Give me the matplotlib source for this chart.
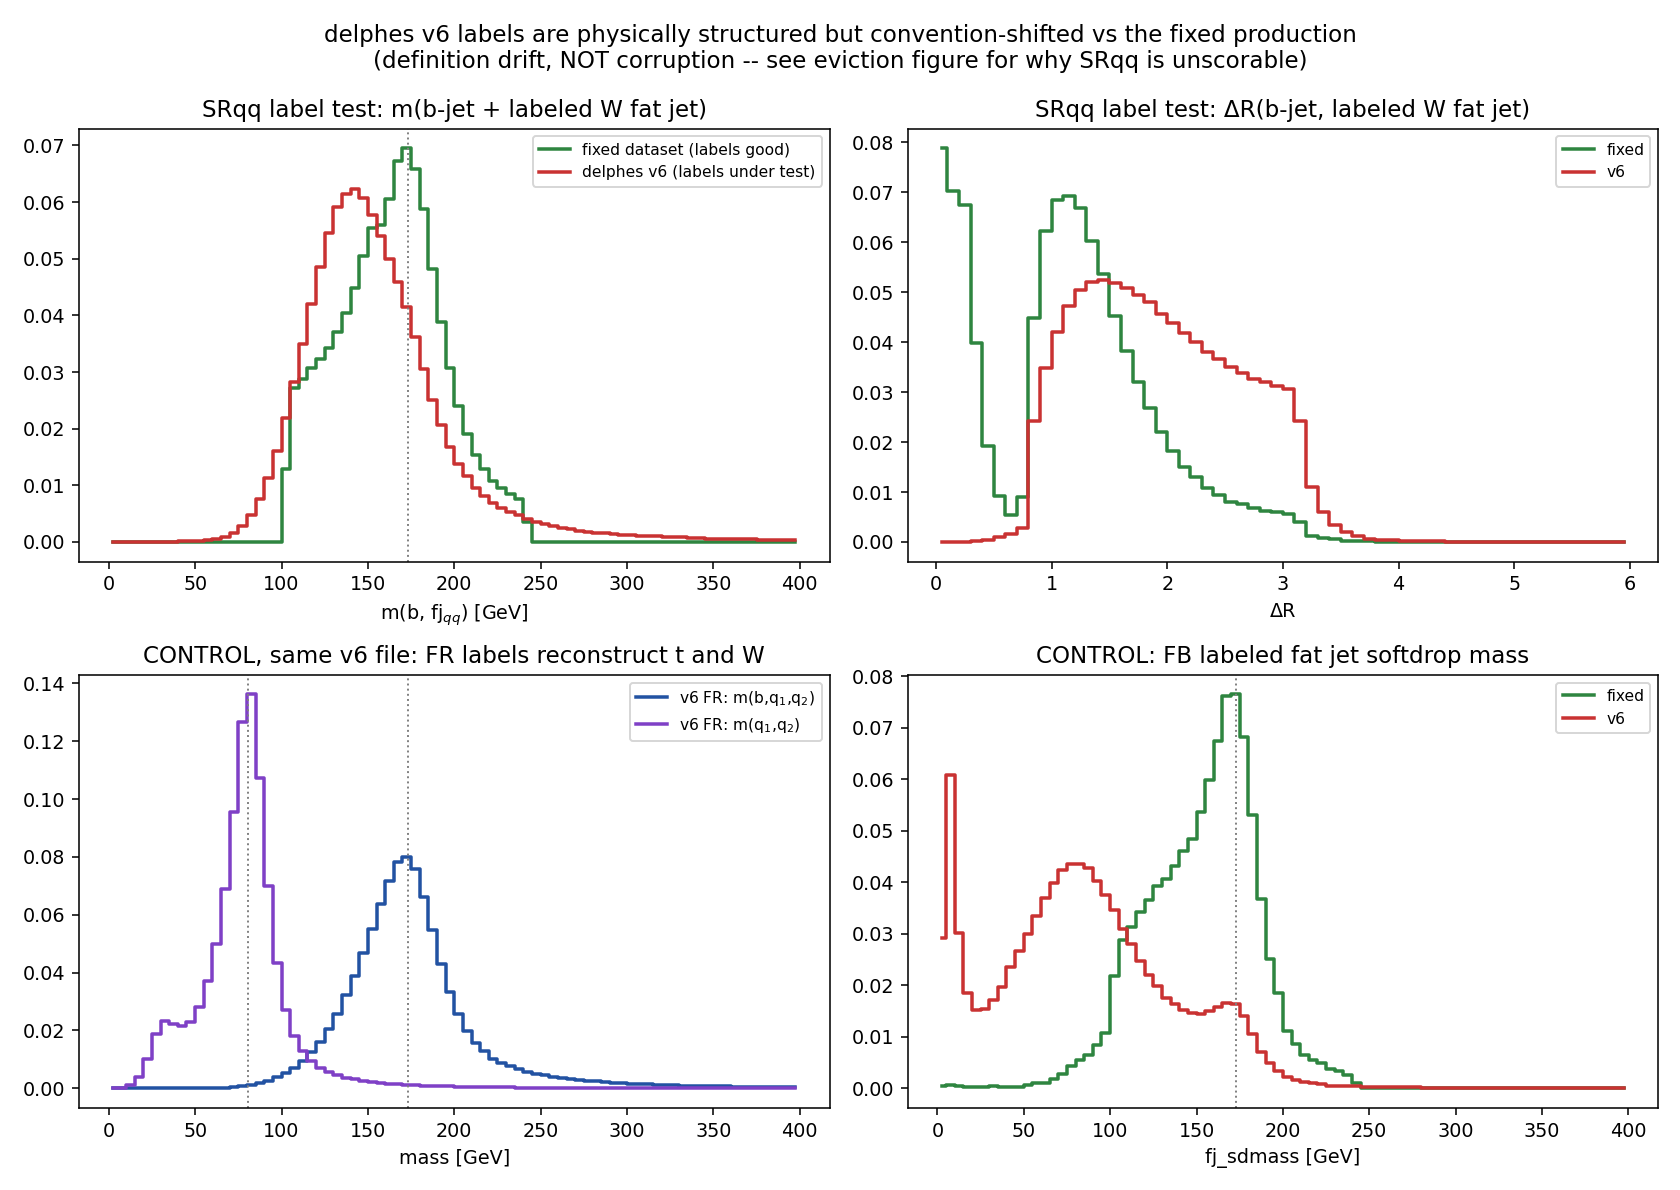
import numpy as np
import matplotlib
matplotlib.use("Agg")
import matplotlib.pyplot as plt

plt.rcParams["font.size"] = 9.85

# bins: mass 0-400 GeV in 5 GeV steps, dR 0-6 in 0.1 steps
mass_edges = np.arange(0, 405, 5)
dr_edges = np.round(np.arange(0, 6.05, 0.1), 2)

T_MASS = 173.0
W_MASS = 80.4

# --- SRqq m(b, fj_qq) ---
srqq_mass_fixed = [
    0, 0, 0, 0, 0, 0, 0, 0, 0, 0,
    0, 0, 0, 0, 0, 0, 0, 0, 0, 0,
    0.0129, 0.0271, 0.0288, 0.0307, 0.0323, 0.0343, 0.0370, 0.0404, 0.0449, 0.0504,
    0.0555, 0.0559, 0.0606, 0.0673, 0.0695, 0.0659, 0.0587, 0.0482, 0.0388, 0.0307,
    0.0240, 0.0191, 0.0154, 0.0129, 0.0107, 0.0095, 0.0085, 0.0076, 0.0036, 0,
    0, 0, 0, 0, 0, 0, 0, 0, 0, 0,
    0, 0, 0, 0, 0, 0, 0, 0, 0, 0,
    0, 0, 0, 0, 0, 0, 0, 0, 0, 0,
]
srqq_mass_v6 = [
    0, 0, 0, 0, 0, 0, 0, 0, 0.0001, 0.0001,
    0.0002, 0.0003, 0.0005, 0.0009, 0.0016, 0.0029, 0.0047, 0.0075, 0.0113, 0.0160,
    0.0218, 0.0282, 0.0349, 0.0420, 0.0486, 0.0545, 0.0591, 0.0614, 0.0623, 0.0607,
    0.0578, 0.0540, 0.0500, 0.0459, 0.0414, 0.0362, 0.0305, 0.0251, 0.0206, 0.0168,
    0.0137, 0.0116, 0.0096, 0.0081, 0.0069, 0.0060, 0.0053, 0.0047, 0.0041, 0.0036,
    0.0032, 0.0029, 0.0025, 0.0023, 0.0020, 0.0018, 0.0016, 0.0015, 0.0014, 0.0013,
    0.0012, 0.0011, 0.0010, 0.0010, 0.0009, 0.0008, 0.0008, 0.0007, 0.0007, 0.0006,
    0.0006, 0.0006, 0.0005, 0.0005, 0.0005, 0.0004, 0.0004, 0.0004, 0.0003, 0.0003,
]

# --- SRqq dR(b, fj) ---
srqq_dr_fixed = [
    0.0788, 0.0702, 0.0675, 0.0398, 0.0193, 0.0092, 0.0054, 0.0090, 0.0448, 0.0623,
    0.0684, 0.0692, 0.0669, 0.0603, 0.0536, 0.0453, 0.0383, 0.0320, 0.0268, 0.0221,
    0.0182, 0.0150, 0.0130, 0.0109, 0.0094, 0.0080, 0.0076, 0.0068, 0.0062, 0.0060,
    0.0056, 0.0040, 0.0012, 0.0008, 0.0005, 0.0002, 0.0001, 0.0001, 0, 0,
    0, 0, 0, 0, 0, 0, 0, 0, 0, 0,
    0, 0, 0, 0, 0, 0, 0, 0, 0, 0,
]
srqq_dr_v6 = [
    0, 0, 0, 0.0002, 0.0004, 0.0009, 0.0015, 0.0028, 0.0242, 0.0348,
    0.0421, 0.0473, 0.0505, 0.0520, 0.0524, 0.0518, 0.0509, 0.0495, 0.0480, 0.0457,
    0.0439, 0.0419, 0.0401, 0.0381, 0.0366, 0.0351, 0.0339, 0.0327, 0.0320, 0.0313,
    0.0306, 0.0242, 0.0110, 0.0061, 0.0034, 0.0020, 0.0011, 0.0006, 0.0004, 0.0003,
    0.0002, 0.0002, 0.0002, 0.0001, 0, 0, 0, 0, 0, 0,
    0, 0, 0, 0, 0, 0, 0, 0, 0, 0,
]

# --- control: FR labels in v6 ---
fr_m_bqq = [
    0, 0, 0, 0, 0, 0, 0, 0, 0, 0,
    0, 0, 0.0001, 0.0002, 0.0004, 0.0008, 0.0012, 0.0017, 0.0025, 0.0038,
    0.0053, 0.0071, 0.0095, 0.0124, 0.0159, 0.0205, 0.0258, 0.0321, 0.0389, 0.0468,
    0.0550, 0.0636, 0.0716, 0.0783, 0.0800, 0.0757, 0.0662, 0.0548, 0.0431, 0.0333,
    0.0255, 0.0198, 0.0157, 0.0128, 0.0102, 0.0088, 0.0076, 0.0066, 0.0057, 0.0050,
    0.0045, 0.0040, 0.0036, 0.0032, 0.0029, 0.0026, 0.0024, 0.0022, 0.0019, 0.0017,
    0.0015, 0.0014, 0.0013, 0.0012, 0.0011, 0.0010, 0.0009, 0.0008, 0.0008, 0.0007,
    0.0006, 0.0006, 0.0005, 0.0005, 0.0004, 0.0004, 0.0004, 0.0003, 0.0003, 0.0003,
]
fr_m_qq = [
    0, 0, 0.0012, 0.0038, 0.0100, 0.0188, 0.0232, 0.0222, 0.0214, 0.0228,
    0.0280, 0.0372, 0.0499, 0.0688, 0.0955, 0.1265, 0.1362, 0.1073, 0.0700, 0.0432,
    0.0272, 0.0179, 0.0130, 0.0095, 0.0070, 0.0055, 0.0044, 0.0037, 0.0031, 0.0025,
    0.0021, 0.0017, 0.0015, 0.0013, 0.0011, 0.0010, 0.0009, 0.0008, 0.0007, 0.0006,
    0.0005, 0.0005, 0.0004, 0.0004, 0.0003, 0.0003, 0.0003, 0.0002, 0.0002, 0.0002,
    0.0002, 0.0002, 0.0002, 0.0002, 0.0002, 0.0002, 0.0002, 0.0002, 0.0002, 0.0002,
    0.0002, 0.0002, 0.0001, 0.0001, 0.0001, 0.0001, 0.0001, 0.0001, 0.0001, 0.0001,
    0.0001, 0.0001, 0.0001, 0.0001, 0.0001, 0.0001, 0.0001, 0.0001, 0.0001, 0.0001,
]

# --- control: FB fat jet softdrop mass ---
fb_sdmass_fixed = [
    0.0004, 0.0006, 0.0005, 0.0002, 0.0002, 0.0002, 0.0004, 0.0002, 0.0003, 0.0003,
    0.0007, 0.0010, 0.0011, 0.0018, 0.0027, 0.0043, 0.0055, 0.0064, 0.0083, 0.0108,
    0.0218, 0.0287, 0.0314, 0.0342, 0.0366, 0.0393, 0.0407, 0.0431, 0.0460, 0.0484,
    0.0537, 0.0598, 0.0674, 0.0762, 0.0765, 0.0682, 0.0531, 0.0368, 0.0251, 0.0184,
    0.0112, 0.0086, 0.0064, 0.0054, 0.0049, 0.0038, 0.0034, 0.0026, 0.0010, 0.0001,
    0.0001, 0.0001, 0.0001, 0.0001, 0.0001, 0, 0, 0, 0, 0,
    0, 0, 0, 0, 0, 0, 0, 0, 0, 0,
    0, 0, 0, 0, 0, 0, 0, 0, 0, 0,
]
fb_sdmass_v6 = [
    0.0291, 0.0608, 0.0301, 0.0185, 0.0151, 0.0153, 0.0172, 0.0197, 0.0235, 0.0267,
    0.0300, 0.0334, 0.0369, 0.0398, 0.0424, 0.0436, 0.0436, 0.0427, 0.0402, 0.0376,
    0.0346, 0.0310, 0.0281, 0.0247, 0.0220, 0.0199, 0.0176, 0.0163, 0.0151, 0.0147,
    0.0144, 0.0150, 0.0158, 0.0166, 0.0163, 0.0140, 0.0106, 0.0070, 0.0049, 0.0033,
    0.0021, 0.0016, 0.0012, 0.0010, 0.0008, 0.0005, 0.0005, 0.0004, 0.0004, 0.0003,
    0.0003, 0.0003, 0.0002, 0.0002, 0.0002, 0.0002, 0.0001, 0.0001, 0.0001, 0.0001,
    0.0001, 0.0001, 0.0001, 0.0001, 0.0001, 0.0001, 0.0001, 0.0001, 0.0001, 0.0001,
    0, 0, 0, 0, 0, 0, 0, 0, 0, 0,
]

C_FIXED = "#2e8540"
C_V6 = "#c93232"
C_BQQ = "#2252a2"
C_QQ = "#7f40c6"
LW = 1.8


def centers(edges):
    edges = np.asarray(edges, dtype=float)
    return 0.5 * (edges[:-1] + edges[1:])


def hstep(ax, edges, vals, color, label):
    ax.step(centers(edges), vals, where="mid", color=color, lw=LW, label=label)


def vline(ax, x):
    ax.axvline(x, color="gray", ls=":", lw=1.0)


fig, axes = plt.subplots(2, 2, figsize=(12, 8.5), dpi=140)
fig.subplots_adjust(left=0.047, right=0.987, top=0.892, bottom=0.069,
                    wspace=0.104, hspace=0.261)

ax = axes[0, 0]
hstep(ax, mass_edges, srqq_mass_fixed, C_FIXED, "fixed dataset (labels good)")
hstep(ax, mass_edges, srqq_mass_v6, C_V6, "delphes v6 (labels under test)")
vline(ax, T_MASS)
ax.set_title("SRqq label test: m(b-jet + labeled W fat jet)")
ax.set_xlabel(r"m(b, fj$_{qq}$) [GeV]")
ax.legend(fontsize=8)

ax = axes[0, 1]
hstep(ax, dr_edges, srqq_dr_fixed, C_FIXED, "fixed")
hstep(ax, dr_edges, srqq_dr_v6, C_V6, "v6")
ax.set_title("SRqq label test: \u0394R(b-jet, labeled W fat jet)")
ax.set_xlabel("\u0394R")
ax.legend(fontsize=8)

ax = axes[1, 0]
hstep(ax, mass_edges, fr_m_bqq, C_BQQ, r"v6 FR: m(b,q$_1$,q$_2$)")
hstep(ax, mass_edges, fr_m_qq, C_QQ, r"v6 FR: m(q$_1$,q$_2$)")
vline(ax, W_MASS)
vline(ax, T_MASS)
ax.set_title("CONTROL, same v6 file: FR labels reconstruct t and W")
ax.set_xlabel("mass [GeV]")
ax.legend(fontsize=8)

ax = axes[1, 1]
hstep(ax, mass_edges, fb_sdmass_fixed, C_FIXED, "fixed")
hstep(ax, mass_edges, fb_sdmass_v6, C_V6, "v6")
vline(ax, T_MASS)
ax.set_title("CONTROL: FB labeled fat jet softdrop mass")
ax.set_xlabel("fj_sdmass [GeV]")
ax.legend(fontsize=8)

fig.suptitle("delphes v6 labels are physically structured but convention-shifted vs the fixed production\n"
             "(definition drift, NOT corruption -- see eviction figure for why SRqq is unscorable)")

fig.savefig("out.png", dpi=140)
